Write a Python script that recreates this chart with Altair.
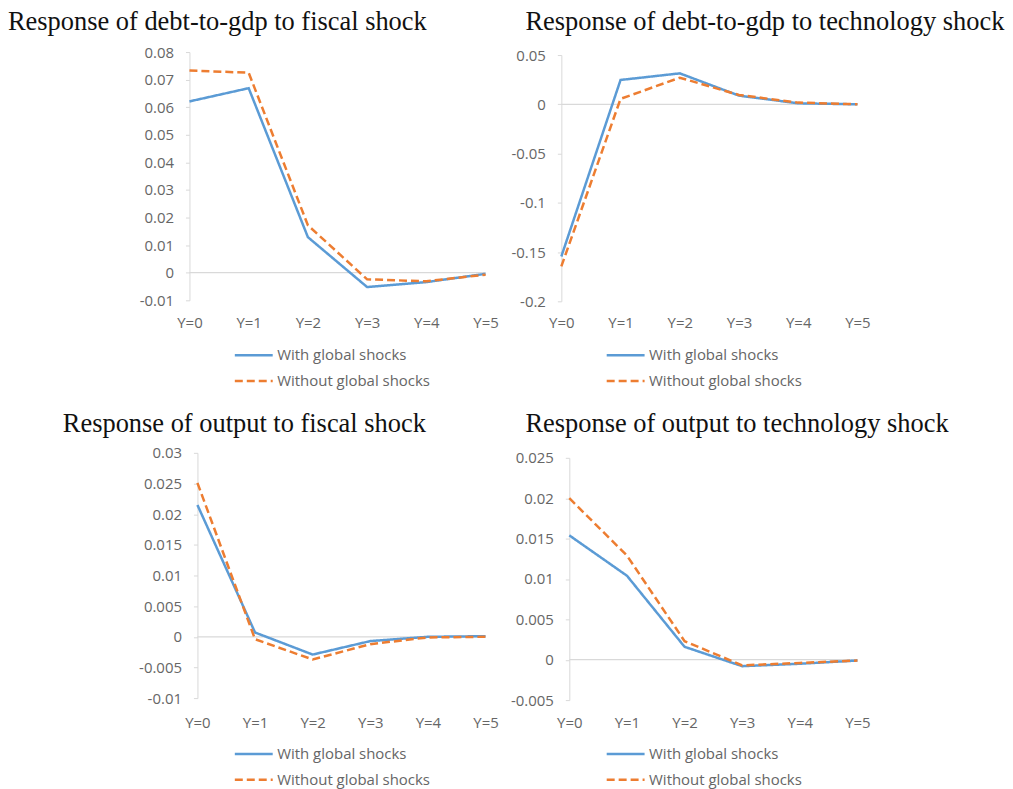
import altair as alt
import pandas as pd

CATS = ["Y=0", "Y=1", "Y=2", "Y=3", "Y=4", "Y=5"]
SERIES = ["With global shocks", "Without global shocks"]
TITLES = [
    "Response of debt-to-gdp to fiscal shock",
    "Response of debt-to-gdp to technology shock",
    "Response of output to fiscal shock",
    "Response of output to technology shock",
]
COLORS = ["#5b9bd5", "#ed7d31"]

P1_WITH = [0.0621, 0.0669, 0.0129, -0.0052, -0.0034, -0.0004]
P1_WITHOUT = [0.0733, 0.0725, 0.0172, -0.0024, -0.0031, -0.0007]
P2_WITH = [-0.1545, 0.0247, 0.0314, 0.0088, 0.0010, 0.0]
P2_WITHOUT = [-0.1646, 0.0055, 0.0270, 0.0095, 0.0017, 0.0]
P3_WITH = [0.0215, 0.0007, -0.0029, -0.0007, 0.0, 0.0001]
P3_WITHOUT = [0.0251, -0.0004, -0.0037, -0.0012, -0.0001, 0.0]
P4_WITH = [0.0154, 0.0104, 0.0016, -0.0008, -0.0005, -0.0001]
P4_WITHOUT = [0.0200, 0.0129, 0.0023, -0.0007, -0.0004, -0.0001]

TICKS1 = [-0.01, 0, 0.01, 0.02, 0.03, 0.04, 0.05, 0.06, 0.07, 0.08]
TICKS2 = [-0.2, -0.15, -0.1, -0.05, 0, 0.05]
TICKS3 = [-0.01, -0.005, 0, 0.005, 0.01, 0.015, 0.02, 0.025, 0.03]
TICKS4 = [-0.005, 0, 0.005, 0.01, 0.015, 0.02, 0.025]
ZERO = [0]

GRAY = "#666666"
LINEGRAY = "#d9d9d9"
SANS = "Open Sans"

LABEL_EXPR = ("datum.value < 0 ? '-' + format(-datum.value, '.3~f') "
              ": format(datum.value, '.3~f')")


def panel(idx, with_vals, without_vals, ticks, xrange, yrange, height,
          title_x, title_y, legend_y, xpad):
    df = pd.DataFrame({
        "period": CATS * 2,
        "value": list(with_vals) + list(without_vals),
        "series": [SERIES[0]] * len(CATS) + [SERIES[1]] * len(CATS),
    })
    xscale = alt.Scale(type="point", domain=CATS, range=xrange, padding=0)
    yscale = alt.Scale(domain=[ticks[0], ticks[-1]], nice=False, zero=False,
                       range=yrange)
    xaxis = alt.Axis(title=None, labelAngle=0, domain=False, ticks=False,
                     grid=False, labelPadding=xpad, labelFont=SANS,
                     labelFontSize=15, labelColor=GRAY)
    yaxis = alt.Axis(title=None, values=ticks, labelExpr=LABEL_EXPR,
                     grid=False, domainColor=LINEGRAY, tickColor=LINEGRAY,
                     tickSize=4, labelPadding=12, labelFont=SANS,
                     labelFontSize=15, labelColor=GRAY, offset=-xrange[0])
    leg = alt.Legend(title=None, orient="none", legendX=44, legendY=legend_y,
                     symbolType="stroke", symbolSize=1444,
                     symbolStrokeWidth=2.5, labelFont=SANS, labelFontSize=15,
                     labelColor=GRAY, labelOffset=3, clipHeight=26,
                     rowPadding=0, padding=0)

    zero = alt.Chart(pd.DataFrame({"z": ZERO})).mark_rule(
        color=LINEGRAY, strokeWidth=1.2
    ).encode(
        x=alt.XDatum(datum=CATS[0], type="ordinal", scale=xscale, axis=xaxis),
        x2=alt.X2Datum(datum=CATS[-1]),
        y=alt.Y("z:Q", scale=yscale, axis=yaxis),
    )
    lines = alt.Chart(df).mark_line(strokeWidth=2.5).encode(
        x=alt.X("period:O", sort=CATS, scale=xscale, axis=xaxis),
        y=alt.Y("value:Q", scale=yscale, axis=yaxis),
        color=alt.Color("series:N", scale=alt.Scale(domain=SERIES, range=COLORS),
                        legend=leg),
        strokeDash=alt.StrokeDash("series:N",
                                  scale=alt.Scale(domain=SERIES,
                                                  range=[[1, 0], [8, 4]]),
                                  legend=leg),
    )
    title = alt.Chart(pd.DataFrame({"t": [TITLES[idx]]})).mark_text(
        font="Liberation Serif", fontSize=26.5, align="left",
        baseline="alphabetic", color="#111111"
    ).encode(
        x=alt.value(title_x), y=alt.value(title_y), text="t:N"
    )
    return alt.layer(zero, lines, title).properties(width=298, height=height)


p1 = panel(0, P1_WITH, P1_WITHOUT, TICKS1, [0, 297], [249, 0], 250,
           -182, -22, 291, 14)
p2 = panel(1, P2_WITH, P2_WITHOUT, TICKS2, [0, 297], [250, 3], 250,
           -36, -22, 291, 14)
p3 = panel(2, P3_WITH, P3_WITHOUT, TICKS3, [8, 297], [246, 0], 248,
           -127, -21, 289, 15)
p4 = panel(3, P4_WITH, P4_WITHOUT, TICKS4, [8, 297], [248, 5], 248,
           -36, -21, 289, 15)

chart = alt.concat(p1, p2, p3, p4, columns=2,
                   spacing={"row": 152, "column": 75}, bounds="flush"
).resolve_scale(
    x="independent", y="independent", color="independent",
    strokeDash="independent"
).resolve_legend(
    color="independent", strokeDash="independent"
).properties(
    padding=0
).configure_view(stroke=None)

chart.save("out.html", embed_options={"renderer": "svg", "actions": False})
